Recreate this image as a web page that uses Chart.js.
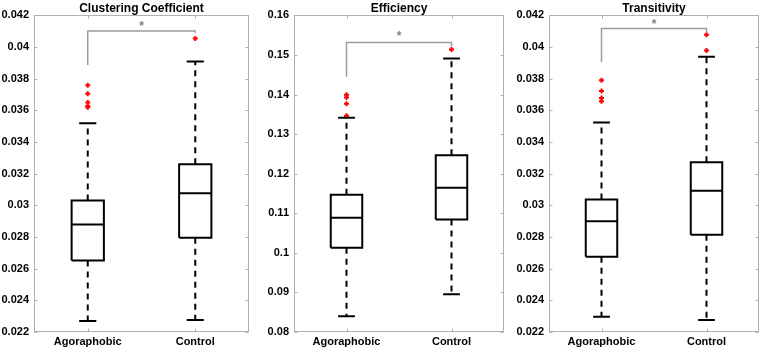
<!DOCTYPE html>
<html lang="en">
<head>
<meta charset="UTF-8">
<title>Network measures</title>
<script src="https://cdn.jsdelivr.net/npm/chart.js"></script>
<style>
    body { margin: 0; background: #fff; }
    .painel { position: absolute; top: 0; width: 255px; height: 351px; }
</style>
</head>
<body>

<div class="painel" style="left:0px"><canvas id="chartCluster"></canvas></div>
<div class="painel" style="left:255px"><canvas id="chartEfficiency"></canvas></div>
<div class="painel" style="left:510px"><canvas id="chartTransitivity"></canvas></div>

<script>
    const groups = ['Agoraphobic', 'Control'];

    // Clustering coefficient
    const clusterLower = [0.02270, 0.02276];
    const clusterQ1 = [0.02652, 0.02796];
    const clusterMedian = [0.02879, 0.03077];
    const clusterQ3 = [0.03031, 0.03259];
    const clusterUpper = [0.03519, 0.03908];
    const clusterOutliers = [[0.03758, 0.03705, 0.03650, 0.03627, 0.03619], [0.04054]];
    const clusterBracket = [0.03887, 0.04101, 0.04090]; // left leg end, bar, right leg end
    const clusterStar = 0.04141;

    // Efficiency
    const effLower = [0.08397, 0.08956];
    const effQ1 = [0.10131, 0.10842];
    const effMedian = [0.10884, 0.11645];
    const effQ3 = [0.11467, 0.12465];
    const effUpper = [0.13412, 0.14909];
    const effOutliers = [[0.13996, 0.13928, 0.13767, 0.13463], [0.15137]];
    const effBracket = [0.14452, 0.15315, 0.15214];
    const effStar = 0.15510;

    // Transitivity
    const transLower = [0.02297, 0.02276];
    const transQ1 = [0.02676, 0.02815];
    const transMedian = [0.02900, 0.03092];
    const transQ3 = [0.03037, 0.03272];
    const transUpper = [0.03523, 0.03938];
    const transOutliers = [[0.03790, 0.03722, 0.03678, 0.03657], [0.04077, 0.03978]];
    const transBracket = [0.03906, 0.04118, 0.04095];
    const transStar = 0.04156;

    const BOX = 0.15;   // half width of box
    const CAP = 0.08;   // half width of whisker cap
    const FONTE = "'Liberation Sans', Arial, sans-serif";

    function linha(pontos, cor, largura, tracejado) {
        return {
            type: 'scatter',
            showLine: true,
            data: pontos.map(p => ({ x: p[0], y: p[1] })),
            borderColor: cor,
            borderWidth: largura,
            borderDash: tracejado || [],
            borderJoinStyle: 'miter',
            pointRadius: 0,
            fill: false
        };
    }

    function montarDatasets(lower, q1, median, q3, upper, outliers, bracket) {
        let ds = [];

        // significance bracket
        ds.push(linha([[1, bracket[0]], [1, bracket[1]], [2, bracket[1]], [2, bracket[2]]], '#9a9a9a', 1.5));

        for (let i = 0; i < groups.length; i++) {
            let p = i + 1;
            ds.push(linha([[p, q3[i]], [p, upper[i]]], 'black', 2, [6, 5]));
            ds.push(linha([[p, q1[i]], [p, lower[i]]], 'black', 2, [6, 5]));
            ds.push(linha([[p - CAP, upper[i]], [p + CAP, upper[i]]], 'black', 2));
            ds.push(linha([[p - CAP, lower[i]], [p + CAP, lower[i]]], 'black', 2));
            ds.push(linha([[p - BOX, q1[i]], [p + BOX, q1[i]], [p + BOX, q3[i]], [p - BOX, q3[i]], [p - BOX, q1[i]]], 'black', 2));
            ds.push(linha([[p - BOX, median[i]], [p + BOX, median[i]]], 'black', 2));
            ds.push({
                type: 'scatter',
                data: outliers[i].map(v => ({ x: p, y: v })),
                pointStyle: 'cross',
                pointRadius: 2.5,
                borderColor: '#ff0000',
                borderWidth: 2
            });
        }
        return ds;
    }

    // frame, inner ticks and the star
    const moldura = {
        id: 'moldura',
        beforeDatasetsDraw(chart, args, opts) {
            const { ctx, chartArea: a, scales: { x, y } } = chart;
            const L = Math.round(a.left) + 0.5, R = Math.round(a.right) - 0.5;
            const T = Math.round(a.top) + 0.5, B = Math.round(a.bottom) - 0.5;
            ctx.save();
            ctx.strokeStyle = '#b0b0b0';
            ctx.lineWidth = 1;
            ctx.strokeRect(L, T, R - L, B - T);
            ctx.beginPath();
            y.ticks.forEach(t => {
                let py = Math.round(y.getPixelForValue(t.value)) + 0.5;
                ctx.moveTo(L, py); ctx.lineTo(L + 3, py);
                ctx.moveTo(R, py); ctx.lineTo(R - 3, py);
            });
            x.ticks.forEach(t => {
                let px = Math.round(x.getPixelForValue(t.value)) + 0.5;
                ctx.moveTo(px, T); ctx.lineTo(px, T + 3);
                ctx.moveTo(px, B); ctx.lineTo(px, B - 3);
            });
            ctx.stroke();

            ctx.fillStyle = '#808080';
            ctx.font = 'bold 12px ' + FONTE;
            ctx.textAlign = 'center';
            ctx.textBaseline = 'middle';
            ctx.fillText('*', x.getPixelForValue(1.5), y.getPixelForValue(opts.star) + 2);
            ctx.restore();
        }
    };

    function criarGrafico(id, titulo, datasets, yMin, yMax, passo, casas, larguraY, direita, estrela) {
        new Chart(document.getElementById(id), {
            type: 'scatter',
            data: { datasets: datasets },
            options: {
                responsive: true,
                maintainAspectRatio: false,
                animation: false,
                layout: { padding: { left: 0, right: direita, top: 0, bottom: 0 } },
                plugins: {
                    legend: { display: false },
                    tooltip: { enabled: false },
                    title: {
                        display: true,
                        text: titulo,
                        fullSize: false,
                        color: 'black',
                        font: { family: FONTE, size: 12, weight: 'bold' },
                        padding: { top: 1, bottom: 0 }
                    },
                    moldura: { star: estrela }
                },
                scales: {
                    x: {
                        type: 'linear',
                        min: 0.5,
                        max: 2.5,
                        grid: { display: false, drawTicks: false },
                        border: { display: false },
                        afterBuildTicks: s => { s.ticks = groups.map((g, i) => ({ value: i + 1 })); },
                        afterFit: s => { s.height = 19; },
                        ticks: {
                            padding: 3,
                            color: 'black',
                            maxRotation: 0,
                            font: { family: FONTE, size: 11, weight: 'bold' },
                            callback: v => groups[v - 1]
                        }
                    },
                    y: {
                        min: yMin,
                        max: yMax,
                        grid: { display: false, drawTicks: false },
                        border: { display: false },
                        afterFit: s => { s.width = larguraY; },
                        ticks: {
                            stepSize: passo,
                            padding: 5,
                            color: 'black',
                            font: { family: FONTE, size: 11, weight: 'bold' },
                            callback: v => String(Number(v.toFixed(casas)))
                        }
                    }
                }
            },
            plugins: [moldura]
        });
    }

    criarGrafico('chartCluster', 'Clustering Coefficient',
        montarDatasets(clusterLower, clusterQ1, clusterMedian, clusterQ3, clusterUpper, clusterOutliers, clusterBracket),
        0.022, 0.042, 0.002, 3, 34, 6, clusterStar);

    criarGrafico('chartEfficiency', 'Efficiency',
        montarDatasets(effLower, effQ1, effMedian, effQ3, effUpper, effOutliers, effBracket),
        0.08, 0.16, 0.01, 2, 39, 3, effStar);

    criarGrafico('chartTransitivity', 'Transitivity',
        montarDatasets(transLower, transQ1, transMedian, transQ3, transUpper, transOutliers, transBracket),
        0.022, 0.042, 0.002, 3, 39, 5, transStar);
</script>
</body>
</html>
